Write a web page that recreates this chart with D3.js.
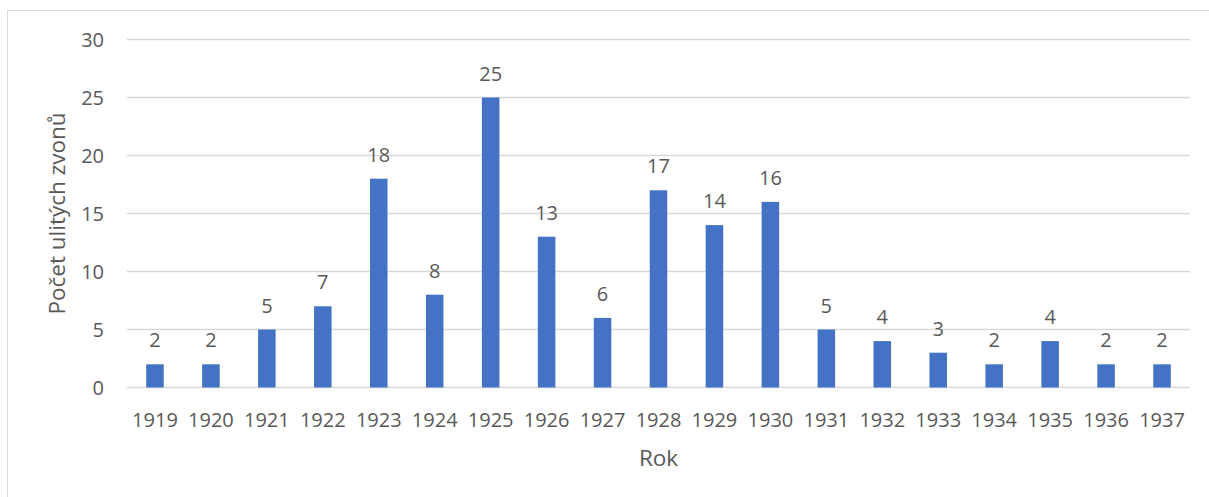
<!DOCTYPE html>
<html>
<head>
<meta charset="utf-8">
<script src="https://cdn.jsdelivr.net/npm/d3@7"></script>
<style>
  body { margin: 0; background: #fff; }
  text { font-family: "Open Sans", sans-serif; fill: #595959; }
</style>
</head>
<body>
<div id="chart"></div>
<script>
const years = ["1919", "1920", "1921", "1922", "1923", "1924", "1925", "1926", "1927", "1928",
  "1929", "1930", "1931", "1932", "1933", "1934", "1935", "1936", "1937"]
const bells = [2, 2, 5, 7, 18, 8, 25, 13, 6, 17, 14, 16, 5, 4, 3, 2, 4, 2, 2]
const yTicks = [0, 5, 10, 15, 20, 25, 30]

const width = 1209, height = 497
const margin = {top: 39.5, right: 19, bottom: 109.5, left: 127}

const svg = d3.select("#chart").append("svg")
  .attr("width", width)
  .attr("height", height)

// chart frame (right/bottom edges fall outside the picture)
svg.append("rect")
  .attr("x", 7.5).attr("y", 10.5)
  .attr("width", width + 20).attr("height", height + 20)
  .attr("fill", "none")
  .attr("stroke", "#d9d9d9")

const x = d3.scaleBand()
  .domain(years)
  .range([margin.left, width - margin.right])

const y = d3.scaleLinear()
  .domain([0, 30])
  .range([height - margin.bottom, margin.top])

const barW = x.bandwidth() / 3.19

// gridlines
svg.append("g")
  .selectAll("line")
  .data(yTicks)
  .join("line")
    .attr("x1", margin.left)
    .attr("x2", width - margin.right)
    .attr("y1", d => y(d))
    .attr("y2", d => y(d))
    .attr("stroke", "#d9d9d9")
    .attr("stroke-width", 1.3)

// y tick labels
svg.append("g")
  .selectAll("text")
  .data(yTicks)
  .join("text")
    .attr("x", 104)
    .attr("y", d => y(d))
    .attr("dy", "0.35em")
    .attr("text-anchor", "end")
    .attr("font-size", 20)
    .text(d => d)

// bars
svg.append("g")
  .selectAll("rect")
  .data(bells)
  .join("rect")
    .attr("x", (d, i) => x(years[i]) + x.bandwidth() / 2 - barW / 2)
    .attr("y", d => y(d))
    .attr("width", barW)
    .attr("height", d => y(0) - y(d))
    .attr("fill", "#4472c4")

// value labels
svg.append("g")
  .selectAll("text")
  .data(bells)
  .join("text")
    .attr("x", (d, i) => x(years[i]) + x.bandwidth() / 2)
    .attr("y", d => y(d) - 17)
    .attr("text-anchor", "middle")
    .attr("font-size", 20)
    .text(d => d)

// x tick labels
svg.append("g")
  .selectAll("text")
  .data(years)
  .join("text")
    .attr("x", d => x(d) + x.bandwidth() / 2)
    .attr("y", 427)
    .attr("text-anchor", "middle")
    .attr("font-size", 20)
    .text(d => d)

// axis titles
svg.append("text")
  .attr("x", (margin.left + width - margin.right) / 2)
  .attr("y", 466)
  .attr("text-anchor", "middle")
  .attr("font-size", 22.5)
  .text("Rok")

svg.append("text")
  .attr("transform", `translate(65,${(y(0) + y(30)) / 2}) rotate(-90)`)
  .attr("text-anchor", "middle")
  .attr("font-size", 22.5)
  .text("Počet ulitých zvonů")
</script>
</body>
</html>
